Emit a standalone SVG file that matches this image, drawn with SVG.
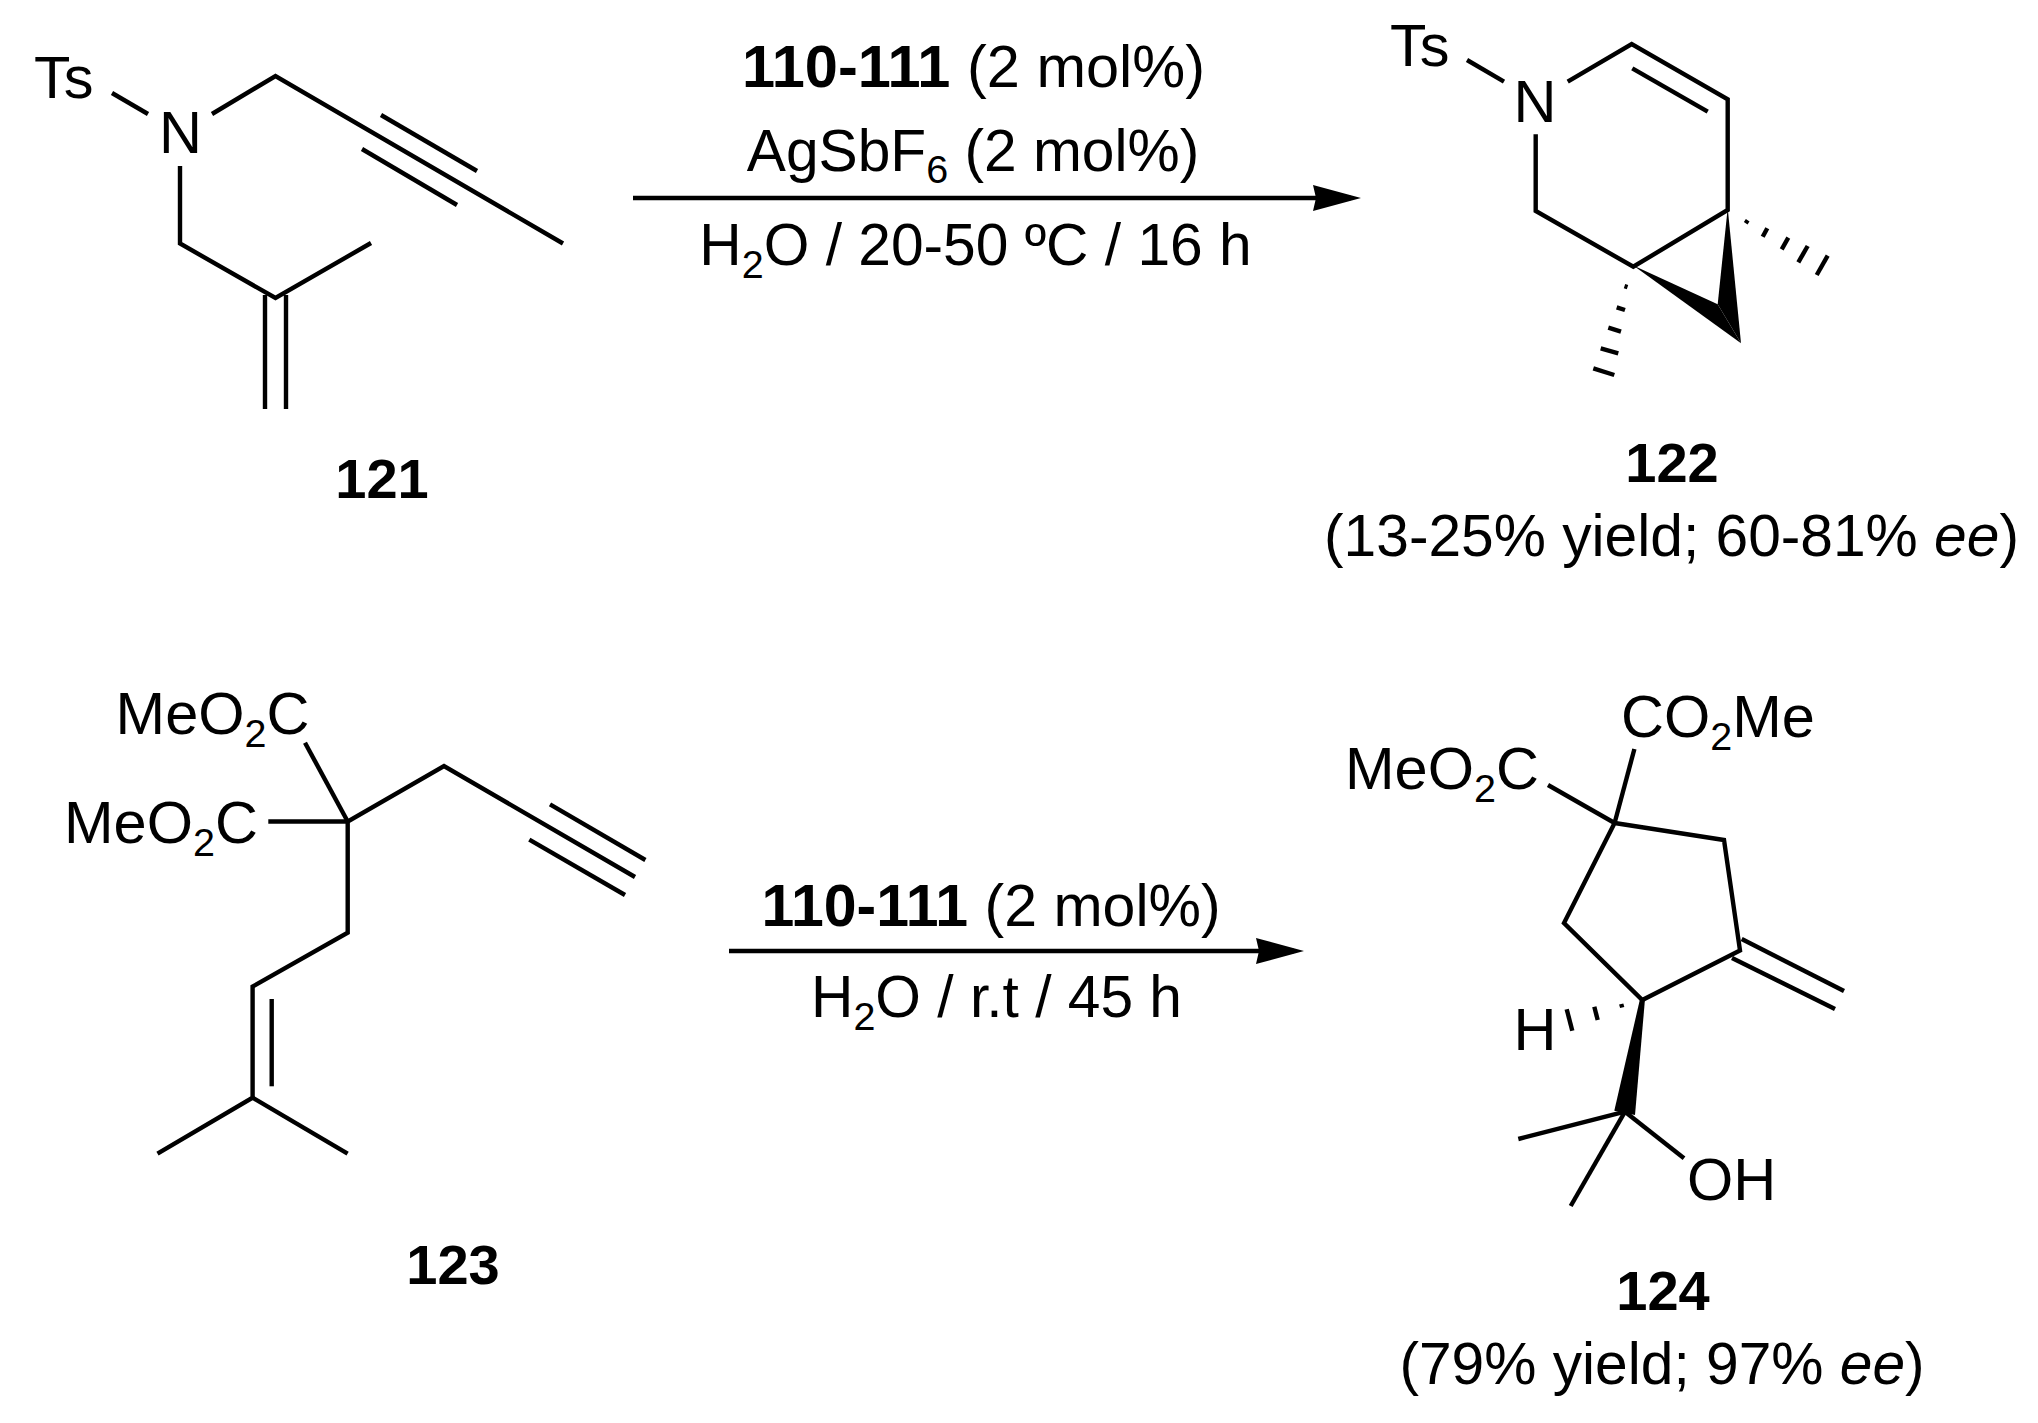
<svg xmlns="http://www.w3.org/2000/svg" width="2038" height="1423" viewBox="0 0 2038 1423">
<style>
text{font-family:"Liberation Sans",Arial,sans-serif;font-size:59.5px;fill:#000}
.b{font-weight:700}
.m{text-anchor:middle}
.n{font-size:56px}
.c{font-size:58.7px}
.t{font-size:59.5px}
.u{font-size:59px}
.s{font-size:39.5px}
line,polyline{stroke:#000;stroke-width:4.4;fill:none;stroke-linecap:butt;stroke-linejoin:miter}
polygon{fill:#000}
</style>
<defs><marker id="ah" markerUnits="userSpaceOnUse" markerWidth="48" markerHeight="26" refX="38" refY="13" orient="auto"><path d="M0 0L48 13L0 26L3 13Z" fill="#000"/></marker></defs>
<rect width="2038" height="1423" fill="#fff"/>
<g id="connectors">
<line id="arrow-1" x1="633" y1="198" x2="1351" y2="198" marker-end="url(#ah)"/>
<line id="arrow-2" x1="729" y1="951" x2="1294" y2="951" marker-end="url(#ah)"/>
</g>
<g id="compound-121">
<text x="34" y="98">Ts</text><text x="159" y="153">N</text>
<line x1="112" y1="93" x2="148" y2="114"/>
<polyline points="212,114 275.5,76 563,243.5"/>
<line x1="381" y1="115" x2="477" y2="171"/><line x1="362" y1="149" x2="457" y2="205"/>
<polyline points="180,166 180,243.5 275.5,298 371,243"/>
<line x1="265" y1="295" x2="265" y2="409"/><line x1="286" y1="295" x2="286" y2="409"/>
<text class="b m n" x="382" y="498">121</text>
</g>
<g id="conditions-1">
<text class="m t" x="973.5" y="87"><tspan class="b">110-111</tspan> (2 mol%)</text>
<text class="m c" x="973" y="171">AgSbF<tspan class="s" dy="12">6</tspan><tspan dy="-12"> (2 mol%)</tspan></text>
<text class="m c" x="975.5" y="265">H<tspan class="s" dy="13">2</tspan><tspan dy="-13">O / 20-50 ºC / 16 h</tspan></text>
</g>
<g id="compound-122">
<text x="1390" y="66">Ts</text><text x="1513.5" y="122">N</text>
<line x1="1467" y1="60" x2="1504" y2="81.7"/>
<polyline points="1567.7,81.7 1631.7,44 1727.7,99.3 1727.7,210 1633.3,266.7 1535.7,211 1535.7,134.3"/>
<line x1="1632.3" y1="68.3" x2="1707.7" y2="111.7"/>
<polygon points="1633.3,265.5 1717.7,304.3 1741,343.3"/>
<polygon points="1727.7,208 1717.7,304.3 1741,343.3"/>
<g id="hash-122">
<line x1="1745.7" y1="223.2" x2="1747.7" y2="220.2"/><line x1="1762.7" y1="236.7" x2="1767.3" y2="228.3"/><line x1="1781.7" y1="249.3" x2="1788.3" y2="237.7"/><line x1="1798.3" y1="262.3" x2="1807.7" y2="246"/><line x1="1816.7" y1="275" x2="1827.7" y2="255.7"/>
<line x1="1624.5" y1="286.2" x2="1627.5" y2="287.2"/><line x1="1616.7" y1="307.3" x2="1625" y2="310"/><line x1="1608.3" y1="327.7" x2="1621" y2="331.7"/><line x1="1600.7" y1="348.3" x2="1618.3" y2="353.3"/><line x1="1593.3" y1="368.3" x2="1614.3" y2="375"/>
</g>
<text class="b m n" x="1672" y="482">122</text>
<text class="m c" x="1671.5" y="555.5">(13-25% yield; 60-81% <tspan font-style="italic">ee</tspan>)</text>
</g>
<g id="compound-123">
<text x="115.6" y="733.5">MeO<tspan class="s" dy="13">2</tspan><tspan dy="-13">C</tspan></text>
<text x="64" y="843">MeO<tspan class="s" dy="13">2</tspan><tspan dy="-13">C</tspan></text>
<line x1="305" y1="742.7" x2="347.7" y2="821.5"/><line x1="268.3" y1="821.5" x2="347.7" y2="821.5"/>
<polyline points="635,877 444,766 347.7,821.5 347.7,932.7 252.6,986.6 252.6,1097.7 157.5,1153.7"/>
<line x1="252.6" y1="1097.7" x2="347.6" y2="1153.7"/>
<line x1="550" y1="804.4" x2="645.4" y2="860"/><line x1="529.3" y1="839.7" x2="625" y2="895"/>
<line x1="271.7" y1="999" x2="271.7" y2="1086.3"/>
<text class="b m n" x="453" y="1284">123</text>
</g>
<g id="conditions-2">
<text class="m u" x="991" y="926"><tspan class="b">110-111</tspan> (2 mol%)</text>
<text class="m c" x="996.5" y="1017">H<tspan class="s" dy="13">2</tspan><tspan dy="-13">O / r.t / 45 h</tspan></text>
</g>
<g id="compound-124">
<text x="1621" y="737">CO<tspan class="s" dy="13">2</tspan><tspan dy="-13">Me</tspan></text>
<text x="1345" y="789">MeO<tspan class="s" dy="13">2</tspan><tspan dy="-13">C</tspan></text>
<line x1="1634.4" y1="749" x2="1614.6" y2="823"/><line x1="1548" y1="785" x2="1614.6" y2="823"/>
<polyline points="1614.6,823 1724,840 1740,950.5 1642.3,1000 1564,923 1614.6,823"/>
<line x1="1741.7" y1="939" x2="1844" y2="991"/><line x1="1732" y1="958" x2="1835" y2="1009"/>
<polygon points="1640,999 1645,999 1635,1115 1614.3,1110.7"/>
<line x1="1625" y1="1111.7" x2="1518.3" y2="1139"/><line x1="1625" y1="1111.7" x2="1570.7" y2="1206"/><line x1="1625" y1="1111.7" x2="1684" y2="1158.3"/>
<g id="hash-124"><line x1="1621.2" y1="1004" x2="1622.2" y2="1007.5"/><line x1="1594.3" y1="1006.7" x2="1597.7" y2="1020"/><line x1="1566.7" y1="1009.3" x2="1572.3" y2="1030.7"/></g>
<text x="1513.5" y="1050">H</text><text x="1687" y="1200">OH</text>
<text class="b m n" x="1663" y="1310">124</text>
<text class="m c" x="1662" y="1383.5">(79% yield; 97% <tspan font-style="italic">ee</tspan>)</text>
</g>
</svg>
